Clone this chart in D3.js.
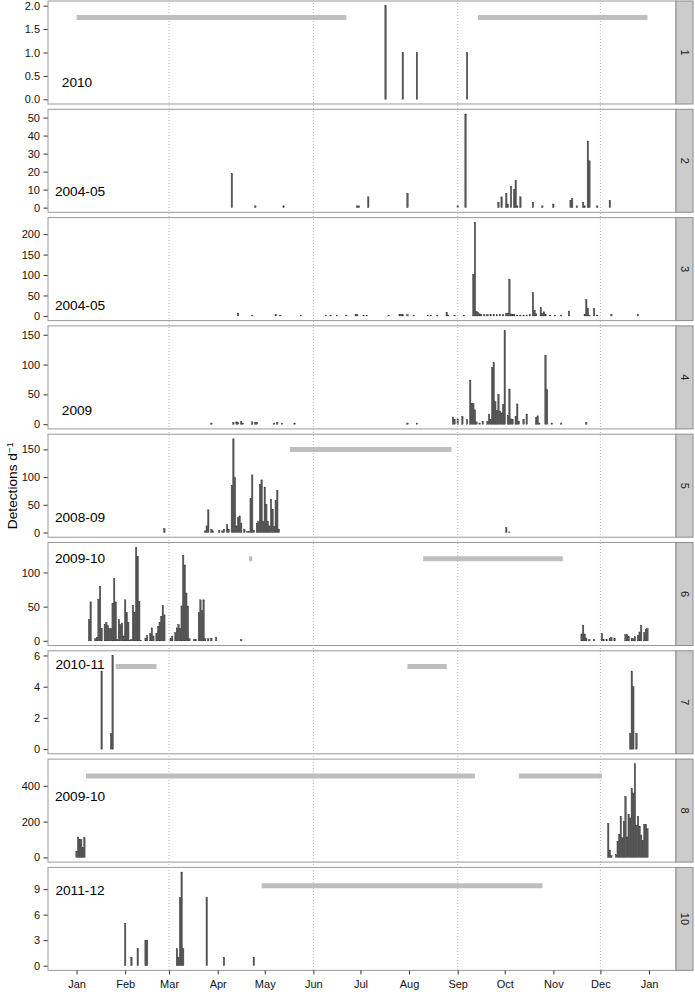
<!DOCTYPE html>
<html>
<head>
<meta charset="utf-8">
<script src="https://cdn.jsdelivr.net/npm/d3@7"></script>
<style>
  body { margin: 0; background: #fff; }
  text { font-family: "Liberation Sans", Arial, sans-serif; }
</style>
</head>
<body>
<script>

// detections per day, [day of year (0 = 1 Jan), count]
var det1 = [[197,2],[208,1],[217,1],[249,1]];
var det2 = [[99,19],[114,1],[132,1],[179,1],[180,1],[186,6],[211,8],[243,1],[248,52],[269,3],[271,6],[274,8],[275,2],
  [277,12],[279,10],[280,15],[281,1],[283,6],[291,3],[297,1],[304,2],[315,4],[316,5],[319,1],[323,3],[324,1],
  [326,37],[327,26],[332,1],[340,4]];
var det3 = [[103,7],[112,2],[127,4],[130,2],[143,2],[159,2],[162,2],[166,2],[172,2],[178,3],[179,3],[183,2],[185,2],
  [199,2],[206,4],[207,3],[208,3],[211,3],[215,2],[224,2],[226,2],[230,2],[236,8],[237,2],[241,1],[247,2],
  [253,102],[254,229],[255,11],[256,8],[257,5],[258,4],[260,3],[262,4],[264,3],[266,4],[268,3],[270,4],[272,3],
  [274,6],[275,7],[276,90],[277,5],[278,3],[279,4],[281,2],[283,2],[285,2],[287,2],[289,3],[291,57],[292,14],
  [293,5],[296,20],[297,6],[298,10],[299,4],[302,2],[305,2],[309,2],[314,12],[324,4],[325,40],[326,19],[327,2],
  [330,18],[332,2],[341,3],[358,3]];
var det4 = [[86,2],[100,3],[102,4],[103,3],[105,5],[106,2],[112,4],[114,3],[115,3],[126,2],[128,3],[131,2],[139,2],
  [211,2],[217,2],[240,12],[241,8],[243,9],[246,13],[249,8],[251,74],[252,35],[253,35],[254,24],[255,4],[257,2],
  [259,5],[262,5],[263,17],[264,8],[265,95],[266,103],[267,38],[268,23],[269,50],[270,22],[271,19],[272,33],
  [273,157],[275,15],[276,59],[277,9],[278,8],[280,13],[281,34],[282,5],[285,8],[287,17],[293,11],[294,14],
  [295,2],[299,115],[300,58],[303,2],[309,2],[325,3]];
var det5 = [[56,7],[82,3],[83,12],[84,41],[86,6],[87,3],[91,4],[93,3],[94,6],[96,14],[97,6],[99,85],[100,169],
  [101,99],[102,12],[103,27],[104,30],[105,17],[107,6],[109,2],[110,2],[111,61],[112,104],[113,4],[115,17],
  [116,20],[117,87],[118,95],[119,20],[120,82],[121,51],[122,20],[123,12],[124,60],[125,42],[126,11],[127,58],
  [128,76],[129,6],[274,9],[276,1]];
var det6 = [[8,31],[9,57],[12,3],[13,5],[14,61],[15,80],[16,18],[18,24],[19,27],[20,22],[21,18],[22,18],[23,55],
  [24,91],[25,57],[26,2],[27,31],[28,24],[29,26],[30,7],[31,60],[32,41],[33,27],[34,1],[35,2],[36,52],[37,41],
  [38,137],[39,123],[40,58],[41,1],[44,4],[45,8],[47,11],[48,19],[49,7],[51,11],[52,21],[53,27],[54,36],[55,52],
  [56,38],[60,4],[61,7],[63,12],[64,19],[65,24],[66,18],[67,51],[68,125],[69,111],[70,70],[71,51],[72,3],[75,2],
  [76,2],[78,41],[79,60],[80,44],[81,60],[82,3],[84,3],[86,4],[89,5],[105,2],
  [322,10],[323,23],[324,10],[325,4],[327,2],[330,2],[335,11],[336,2],[338,2],[340,3],[341,5],[343,4],[350,9],
  [351,9],[352,6],[354,3],[355,3],[356,6],[358,8],[359,13],[360,23],[362,12],[363,17],[364,18]];
var det7 = [[16,5],[22,1],[23,6],[353,1],[354,5],[355,4],[357,1]];
var det8 = [[0,33],[1,114],[2,102],[3,99],[4,55],[5,112],
  [339,190],[340,41],[341,10],[344,15],[345,90],[346,130],[347,230],[348,110],[349,200],[350,340],[351,115],
  [352,240],[353,220],[354,385],[355,360],[356,523],[357,180],[358,230],[359,175],[360,125],[361,95],[362,185],
  [363,185],[364,160]];
var det10 = [[31,5],[35,1],[39,2],[44,3],[45,3],[64,2],[65,1],[66,8],[67,11],[68,2],[83,8],[94,1],[113,1]];

// periods drawn as grey bars, [first day, last day]
var gap1 = [[0,172],[256,364]];
var gap5 = [[136,239]];
var gap6 = [[110,112],[221,310]];
var gap7 = [[25,51],[211,236]];
var gap8 = [[6,254],[282,335]];
var gap10 = [[118,297]];

var strips = ["1", "2", "3", "4", "5", "6", "7", "8", "10"];
var seasons = ["2010", "2004-05", "2004-05", "2009", "2008-09", "2009-10", "2010-11", "2009-10", "2011-12"];
var gapLevel = [1.75, null, null, null, 150, 120, 5.3, 455, 9.4];
var yTicks = [
  [0, 0.5, 1, 1.5, 2],
  [0, 10, 20, 30, 40, 50],
  [0, 50, 100, 150, 200],
  [0, 50, 100, 150],
  [0, 50, 100, 150],
  [0, 50, 100],
  [0, 2, 4, 6],
  [0, 200, 400],
  [0, 3, 6, 9]
];
var gridDays = [59, 151, 243, 334];   // 1 Mar, 1 Jun, 1 Sep, 1 Dec

var detections = [det1, det2, det3, det4, det5, det6, det7, det8, det10];
var gaps = [gap1, [], [], [], gap5, gap6, gap7, gap8, gap10];

// layout
var width = 695, height = 992,
    left = 48, right = 676, stripW = 17,
    top0 = 1, panelH = 103, step = 108.3,
    bottom = top0 + 8 * step + panelH;
var labelDy = [80.7, 81.7, 87.4, 84.6, 83.3, 15.5, 13, 36.7, 22.4];

var jan1 = Date.UTC(2001, 0, 1);
function day(d) { return new Date(jan1 + d * 864e5); }

var x = d3.scaleUtc()
    .domain([day(-18.2), day(364 + 18.2)])
    .range([left, right]);

var barW = x(day(0.9)) - x(day(0));

var svg = d3.select("body").append("svg")
    .attr("width", width)
    .attr("height", height);

var panel = svg.selectAll("g.panel")
    .data(detections)
  .enter().append("g")
    .attr("class", "panel")
    .attr("transform", function(d, i) { return "translate(0," + (top0 + i * step) + ")"; })
    .each(drawPanel);

function drawPanel(data, i) {
  var g = d3.select(this);
  var max = d3.max(data, function(d) { return d[1]; });
  var y = d3.scaleLinear()
      .domain([-0.05 * max, 1.05 * max])
      .range([panelH, 0]);

  g.append("rect")
      .attr("x", left)
      .attr("y", 0)
      .attr("width", right - left)
      .attr("height", panelH)
      .attr("fill", "#fff");

  g.selectAll("line.gap")
      .data(gaps[i])
    .enter().append("line")
      .attr("class", "gap")
      .attr("x1", function(d) { return x(day(d[0])); })
      .attr("x2", function(d) { return x(day(d[1])); })
      .attr("y1", y(gapLevel[i]))
      .attr("y2", y(gapLevel[i]))
      .attr("stroke", "#bebebe")
      .attr("stroke-width", 5);

  g.selectAll("rect.bar")
      .data(data)
    .enter().append("rect")
      .attr("class", "bar")
      .attr("x", function(d) { return x(day(d[0])) - barW / 2; })
      .attr("width", barW)
      .attr("y", function(d) { return y(d[1]); })
      .attr("height", function(d) { return y(0) - y(d[1]); })
      .attr("fill", "#595959")
      .attr("stroke", "#333")
      .attr("stroke-width", 0.4);

  g.append("text")
      .attr("x", seasons[i].length > 4 ? 80 : 77)
      .attr("y", labelDy[i] + 5)
      .attr("text-anchor", "middle")
      .style("font-size", "13.7px")
      .text(seasons[i]);

  var yAxis = d3.axisLeft(y)
      .tickValues(yTicks[i])
      .tickSize(4.5)
      .tickPadding(3.5)
      .tickFormat(i === 0 ? d3.format(".1f") : d3.format("d"));

  g.append("g")
      .attr("transform", "translate(" + left + ",0)")
      .call(yAxis)
      .call(function(a) {
        a.select(".domain").remove();
        a.selectAll("line").attr("stroke", "#333");
        a.selectAll("text").style("font-size", "11px").attr("fill", "#111").style("font-family", null);
      });

  g.append("rect")
      .attr("x", left)
      .attr("y", 0)
      .attr("width", right - left)
      .attr("height", panelH)
      .attr("fill", "none")
      .attr("stroke", "#999");

  g.append("rect")
      .attr("x", right)
      .attr("y", 0)
      .attr("width", stripW)
      .attr("height", panelH)
      .attr("fill", "#cccccc")
      .attr("stroke", "#8c8c8c");

  g.append("text")
      .attr("transform", "translate(" + (right + stripW / 2) + "," + (panelH / 2) + ") rotate(90)")
      .attr("text-anchor", "middle")
      .attr("dy", "0.35em")
      .style("font-size", "11px")
      .attr("fill", "#1a1a1a")
      .text(strips[i]);
}

// dotted lines at the start of Mar, Jun, Sep and Dec
svg.selectAll("line.grid")
    .data(gridDays)
  .enter().append("line")
    .attr("class", "grid")
    .attr("x1", function(d) { return x(day(d)); })
    .attr("x2", function(d) { return x(day(d)); })
    .attr("y1", 0)
    .attr("y2", bottom)
    .attr("stroke", "#b5b5b5")
    .attr("stroke-dasharray", "1,2");

var xAxis = d3.axisBottom(x)
    .tickValues(d3.utcMonth.range(day(0), day(366)))
    .tickFormat(d3.utcFormat("%b"))
    .tickSize(4)
    .tickPadding(6);

svg.append("g")
    .attr("transform", "translate(0," + bottom + ")")
    .call(xAxis)
    .call(function(a) {
      a.select(".domain").remove();
      a.selectAll("line").attr("stroke", "#333");
      a.selectAll("text").style("font-size", "11px").attr("fill", "#111").style("font-family", null);
    });

// y title
var title = svg.append("text")
    .attr("transform", "translate(17," + (top0 + (bottom - top0) / 2) + ") rotate(-90)")
    .attr("text-anchor", "middle")
    .style("font-size", "13.7px");
title.append("tspan").text("Detections d");
title.append("tspan").attr("dy", "-0.45em").style("font-size", "9.5px").text("\u22121");

</script>
</body>
</html>
